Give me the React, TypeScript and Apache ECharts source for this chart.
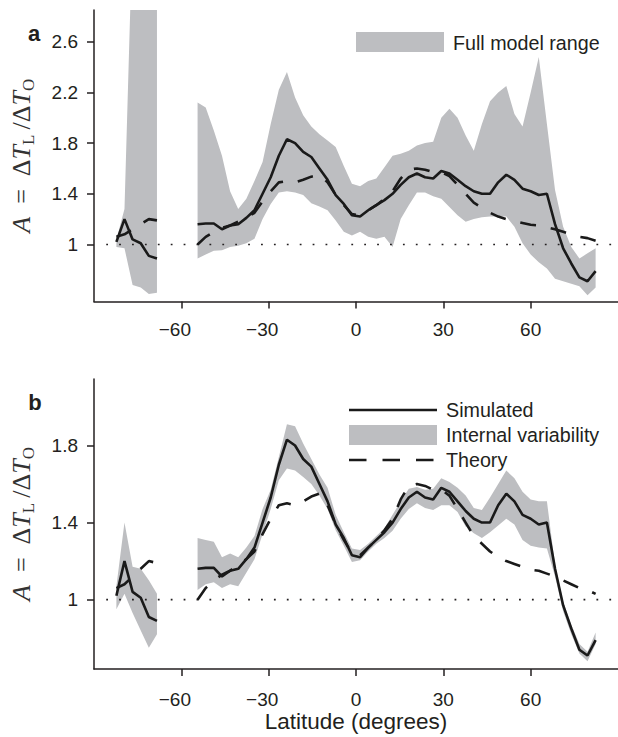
import React, { useEffect, useRef } from 'react';
import * as echarts from 'echarts';

const _ = null;

const latitudes = [
  -82.31, -79.53, -76.74, -73.95, -71.16, -68.37, -65.58, -62.79, -60.0, -57.21,
  -54.42, -51.63, -48.84, -46.04, -43.25, -40.46, -37.67, -34.88, -32.09, -29.3,
  -26.51, -23.72, -20.93, -18.14, -15.35, -12.56, -9.77, -6.98, -4.19, -1.4,
  1.4, 4.19, 6.98, 9.77, 12.56, 15.35, 18.14, 20.93, 23.72, 26.51,
  29.3, 32.09, 34.88, 37.67, 40.46, 43.25, 46.04, 48.84, 51.63, 54.42,
  57.21, 60.0, 62.79, 65.58, 68.37, 71.16, 73.95, 76.74, 79.53, 82.31,
];

const simulated = [
  1.02, 1.2, 1.04, 1.01, 0.91, 0.89, _, _, _, _,
  1.16, 1.165, 1.165, 1.12, 1.15, 1.16, 1.21, 1.27, 1.4, 1.53,
  1.7, 1.83, 1.8, 1.73, 1.69, 1.6, 1.51, 1.39, 1.32, 1.23,
  1.22, 1.27, 1.31, 1.35, 1.4, 1.47, 1.53, 1.56, 1.53, 1.52,
  1.58, 1.56, 1.51, 1.46, 1.42, 1.4, 1.4, 1.49, 1.55, 1.51,
  1.44, 1.42, 1.39, 1.4, 1.16, 0.97, 0.85, 0.74, 0.71, 0.79,
];

const theory = [
  1.06, 1.08, 1.12, 1.16, 1.2, 1.19, _, _, _, _,
  1.0, 1.06, 1.1, 1.13, 1.15, 1.18, 1.21, 1.25, 1.34, 1.42,
  1.49, 1.5, 1.49, 1.51, 1.535, 1.55, 1.49, 1.39, 1.31, 1.24,
  1.23, 1.27, 1.31, 1.36, 1.42, 1.52, 1.59, 1.6, 1.59, 1.57,
  1.57, 1.54, 1.47, 1.4, 1.33, 1.29, 1.25, 1.22, 1.2, 1.185,
  1.17, 1.155, 1.15, 1.135, 1.12, 1.1, 1.08, 1.06, 1.05, 1.03,
];

const fullRangeUpper = [
  1.04, 1.28, 3.5, 3.6, 3.6, 3.6, _, _, _, _,
  2.12, 2.08, 1.9, 1.7, 1.42, 1.28, 1.36, 1.5, 1.65, 1.95,
  2.22, 2.36, 2.16, 2.02, 1.93, 1.87, 1.82, 1.77, 1.62, 1.48,
  1.46, 1.5, 1.52, 1.61, 1.7, 1.715, 1.74, 1.78, 1.8, 1.81,
  2.0, 2.07, 2.0, 1.86, 1.74, 1.95, 2.13, 2.2, 2.25, 2.03,
  1.93, 2.2, 2.48, 1.95, 1.43, 1.14, 0.98, 0.89, 0.93, 0.97,
];

const fullRangeLower = [
  0.98, 0.97, 0.68, 0.66, 0.61, 0.62, _, _, _, _,
  0.89, 0.92, 0.95, 0.955, 0.98, 0.99, 1.01, 1.045, 1.2, 1.32,
  1.41, 1.42, 1.41, 1.39, 1.325, 1.3, 1.27, 1.19, 1.1, 1.07,
  1.1, 1.06, 1.045, 1.06, 0.98, 1.2, 1.31, 1.41, 1.41, 1.38,
  1.36, 1.295, 1.23, 1.18, 1.2, 1.215, 1.22, 1.22, 1.22, 1.14,
  1.01, 0.92, 0.86, 0.81, 0.73, 0.71, 0.69, 0.67, 0.6, 0.66,
];

const internalUpper = [
  1.07, 1.4, 1.17, 1.16, 1.1, 1.03, _, _, _, _,
  1.32, 1.31, 1.3, 1.22, 1.24, 1.22, 1.27, 1.33, 1.47, 1.57,
  1.74, 1.91, 1.9, 1.81, 1.73, 1.65, 1.58, 1.44, 1.35, 1.265,
  1.257, 1.29, 1.33, 1.37, 1.44, 1.51, 1.575, 1.585, 1.57, 1.575,
  1.63, 1.61, 1.58, 1.54, 1.475, 1.465, 1.53, 1.6, 1.67, 1.63,
  1.56, 1.52, 1.51, 1.51, 1.18, 0.99, 0.87, 0.77, 0.73, 0.83,
];

const internalLower = [
  0.95, 1.03, 0.93, 0.84, 0.75, 0.82, _, _, _, _,
  1.05, 1.08, 1.09, 1.06, 1.08, 1.07, 1.14, 1.21, 1.34, 1.47,
  1.62, 1.68, 1.67, 1.637, 1.6, 1.54, 1.47, 1.36, 1.28, 1.195,
  1.204, 1.25, 1.29, 1.32, 1.357, 1.42, 1.47, 1.5, 1.475, 1.465,
  1.49, 1.49, 1.455, 1.38, 1.345, 1.32, 1.35, 1.385, 1.42, 1.39,
  1.31, 1.28, 1.27, 1.265, 1.12, 0.94, 0.82, 0.72, 0.68, 0.77,
];

const xTicks = [-60, -30, 0, 30, 60];
const yTicksA = [1, 1.4, 1.8, 2.2, 2.6];
const yTicksB = [1, 1.4, 1.8];

const INK = '#231f20';
const LINE = '#1a1a1a';
const GREY = '#bdbec1';
const SANS = '"Liberation Sans", Arial, sans-serif';
const SERIF = '"Liberation Serif", "DejaVu Serif", serif';

function pairs(arr: (number | null)[]) {
  return latitudes.map((la, i) => [la, arr[i]]);
}

function buildSegments(up: (number | null)[], lo: (number | null)[]) {
  const segs: { lats: number[]; up: number[]; lo: number[] }[] = [];
  let cur: { lats: number[]; up: number[]; lo: number[] } | null = null;
  latitudes.forEach((la, i) => {
    if (up[i] == null || lo[i] == null) {
      cur = null;
      return;
    }
    if (!cur) {
      cur = { lats: [], up: [], lo: [] };
      segs.push(cur);
    }
    cur.lats.push(la);
    cur.up.push(up[i] as number);
    cur.lo.push(lo[i] as number);
  });
  return segs;
}

function bandSeries(idx: number, up: (number | null)[], lo: (number | null)[]) {
  const segs = buildSegments(up, lo);
  return {
    type: 'custom',
    xAxisIndex: idx,
    yAxisIndex: idx,
    clip: true,
    silent: true,
    z: 1,
    data: segs.map((s, k) => [s.lats[0], s.lo[0], k]),
    encode: { x: 0, y: 1 },
    renderItem: (params: any, api: any) => {
      const s = segs[api.value(2)];
      const pts: number[][] = [];
      s.lats.forEach((la, j) => pts.push(api.coord([la, s.up[j]])));
      for (let j = s.lats.length - 1; j >= 0; j--) pts.push(api.coord([s.lats[j], s.lo[j]]));
      return { type: 'polygon', shape: { points: pts }, style: { fill: GREY } };
    },
  };
}

function lineSeries(idx: number, arr: (number | null)[], dashed: boolean) {
  return {
    type: 'line',
    xAxisIndex: idx,
    yAxisIndex: idx,
    data: pairs(arr),
    showSymbol: false,
    symbol: 'none',
    connectNulls: false,
    silent: true,
    z: dashed ? 3 : 4,
    lineStyle: { color: LINE, width: 2.6, type: dashed ? [16, 15] : 'solid' },
  };
}

function dottedSeries(idx: number) {
  return {
    type: 'line',
    xAxisIndex: idx,
    yAxisIndex: idx,
    data: [[-85.8, 1], [90, 1]],
    showSymbol: false,
    symbol: 'none',
    silent: true,
    z: 2,
    lineStyle: { color: INK, width: 1.6, type: [1.8, 11.1] },
  };
}

const fmtX = (v: number) => (v < 0 ? '{neg|\u2212' + Math.abs(v) + '}' : String(v));

function xAxis(idx: number, margin: number) {
  return {
    type: 'value',
    gridIndex: idx,
    min: -90,
    max: 90,
    interval: 30,
    axisLine: { show: true, onZero: false, lineStyle: { color: INK, width: 1.5 } },
    axisTick: { show: true, customValues: xTicks, length: 7, lineStyle: { color: INK, width: 1.5 } },
    axisLabel: {
      customValues: xTicks,
      formatter: fmtX,
      fontSize: 19,
      fontFamily: SANS,
      color: INK,
      margin,
      rich: {
        neg: { fontSize: 19, fontFamily: SANS, color: INK, padding: [0, 13, 0, 0] },
      },
    },
    splitLine: { show: false },
  };
}

const yName = '{it|A}{n|\u2002=\u2002Δ}{it|T}{sub|L}{n|\u2009/Δ}{it|T}{sub|O}';
const TITLE = '#333333';
const yNameStyle = {
  color: TITLE,
  rich: {
    it: { fontFamily: SERIF, fontStyle: 'italic', fontSize: 26, color: TITLE, lineHeight: 32, verticalAlign: 'middle' },
    n: { fontFamily: SERIF, fontSize: 26, color: TITLE, lineHeight: 32, verticalAlign: 'middle' },
    sub: { fontFamily: SERIF, fontSize: 17, color: TITLE, lineHeight: 17, verticalAlign: 'bottom' },
  },
};

function yAxis(idx: number, min: number, max: number, ticks: number[]) {
  return {
    type: 'value',
    gridIndex: idx,
    min,
    max,
    axisLine: { show: true, onZero: false, lineStyle: { color: INK, width: 1.5 } },
    axisTick: { show: true, customValues: ticks, length: 7, lineStyle: { color: INK, width: 1.5 } },
    axisLabel: {
      customValues: ticks,
      formatter: (v: number) => String(v),
      fontSize: 19,
      fontFamily: SANS,
      color: INK,
      margin: 16,
    },
    splitLine: { show: false },
    name: yName,
    nameLocation: 'middle',
    nameRotate: 90,
    nameGap: 57,
    nameTextStyle: yNameStyle,
  };
}

export default function App() {
  const ref = useRef<HTMLDivElement>(null);
  useEffect(() => {
    const chart = echarts.init(ref.current!, null, { renderer: 'svg' });
    const option: any = {
      animation: false,
      backgroundColor: '#ffffff',
      grid: [
        { left: 92, top: 10, width: 528, height: 291.5 },
        { left: 92, top: 379, width: 528, height: 290 },
      ],
      xAxis: [xAxis(0, 18), xAxis(1, 21)],
      yAxis: [yAxis(0, 0.55, 2.85, yTicksA), yAxis(1, 0.64, 2.145, yTicksB)],
      series: [
        bandSeries(0, fullRangeUpper, fullRangeLower),
        dottedSeries(0),
        lineSeries(0, theory, true),
        lineSeries(0, simulated, false),
        bandSeries(1, internalUpper, internalLower),
        dottedSeries(1),
        lineSeries(1, theory, true),
        lineSeries(1, simulated, false),
      ],
      graphic: [
        { type: 'text', x: 34, y: 33, style: { text: 'a', font: `bold 22px ${SANS}`, fill: INK, align: 'center', verticalAlign: 'middle' } },
        { type: 'text', x: 35, y: 402, style: { text: 'b', font: `bold 22px ${SANS}`, fill: INK, align: 'center', verticalAlign: 'middle' } },
        { type: 'rect', shape: { x: 356, y: 32, width: 88, height: 20 }, style: { fill: GREY } },
        { type: 'text', x: 453, y: 43, style: { text: 'Full model range', font: `19.7px ${SANS}`, fill: INK, align: 'left', verticalAlign: 'middle' } },
        { type: 'line', shape: { x1: 349, y1: 410, x2: 437, y2: 410 }, style: { stroke: LINE, lineWidth: 2.6 } },
        { type: 'rect', shape: { x: 349, y: 425, width: 88, height: 20 }, style: { fill: GREY } },
        { type: 'line', shape: { x1: 349, y1: 460, x2: 437, y2: 460 }, style: { stroke: LINE, lineWidth: 2.6, lineDash: [17.5, 16] } },
        { type: 'text', x: 446, y: 410, style: { text: 'Simulated', font: `19.7px ${SANS}`, fill: INK, align: 'left', verticalAlign: 'middle' } },
        { type: 'text', x: 446, y: 435, style: { text: 'Internal variability', font: `19.7px ${SANS}`, fill: INK, align: 'left', verticalAlign: 'middle' } },
        { type: 'text', x: 446, y: 460, style: { text: 'Theory', font: `19.7px ${SANS}`, fill: INK, align: 'left', verticalAlign: 'middle' } },
        { type: 'text', x: 356, y: 721, style: { text: 'Latitude (degrees)', font: `22.5px ${SANS}`, fill: INK, align: 'center', verticalAlign: 'middle' } },
      ],
    };
    chart.setOption(option);
    return () => chart.dispose();
  }, []);
  return <div ref={ref} style={{ position: 'absolute', left: 0, top: 0, width: 618, height: 737 }} />;
}
